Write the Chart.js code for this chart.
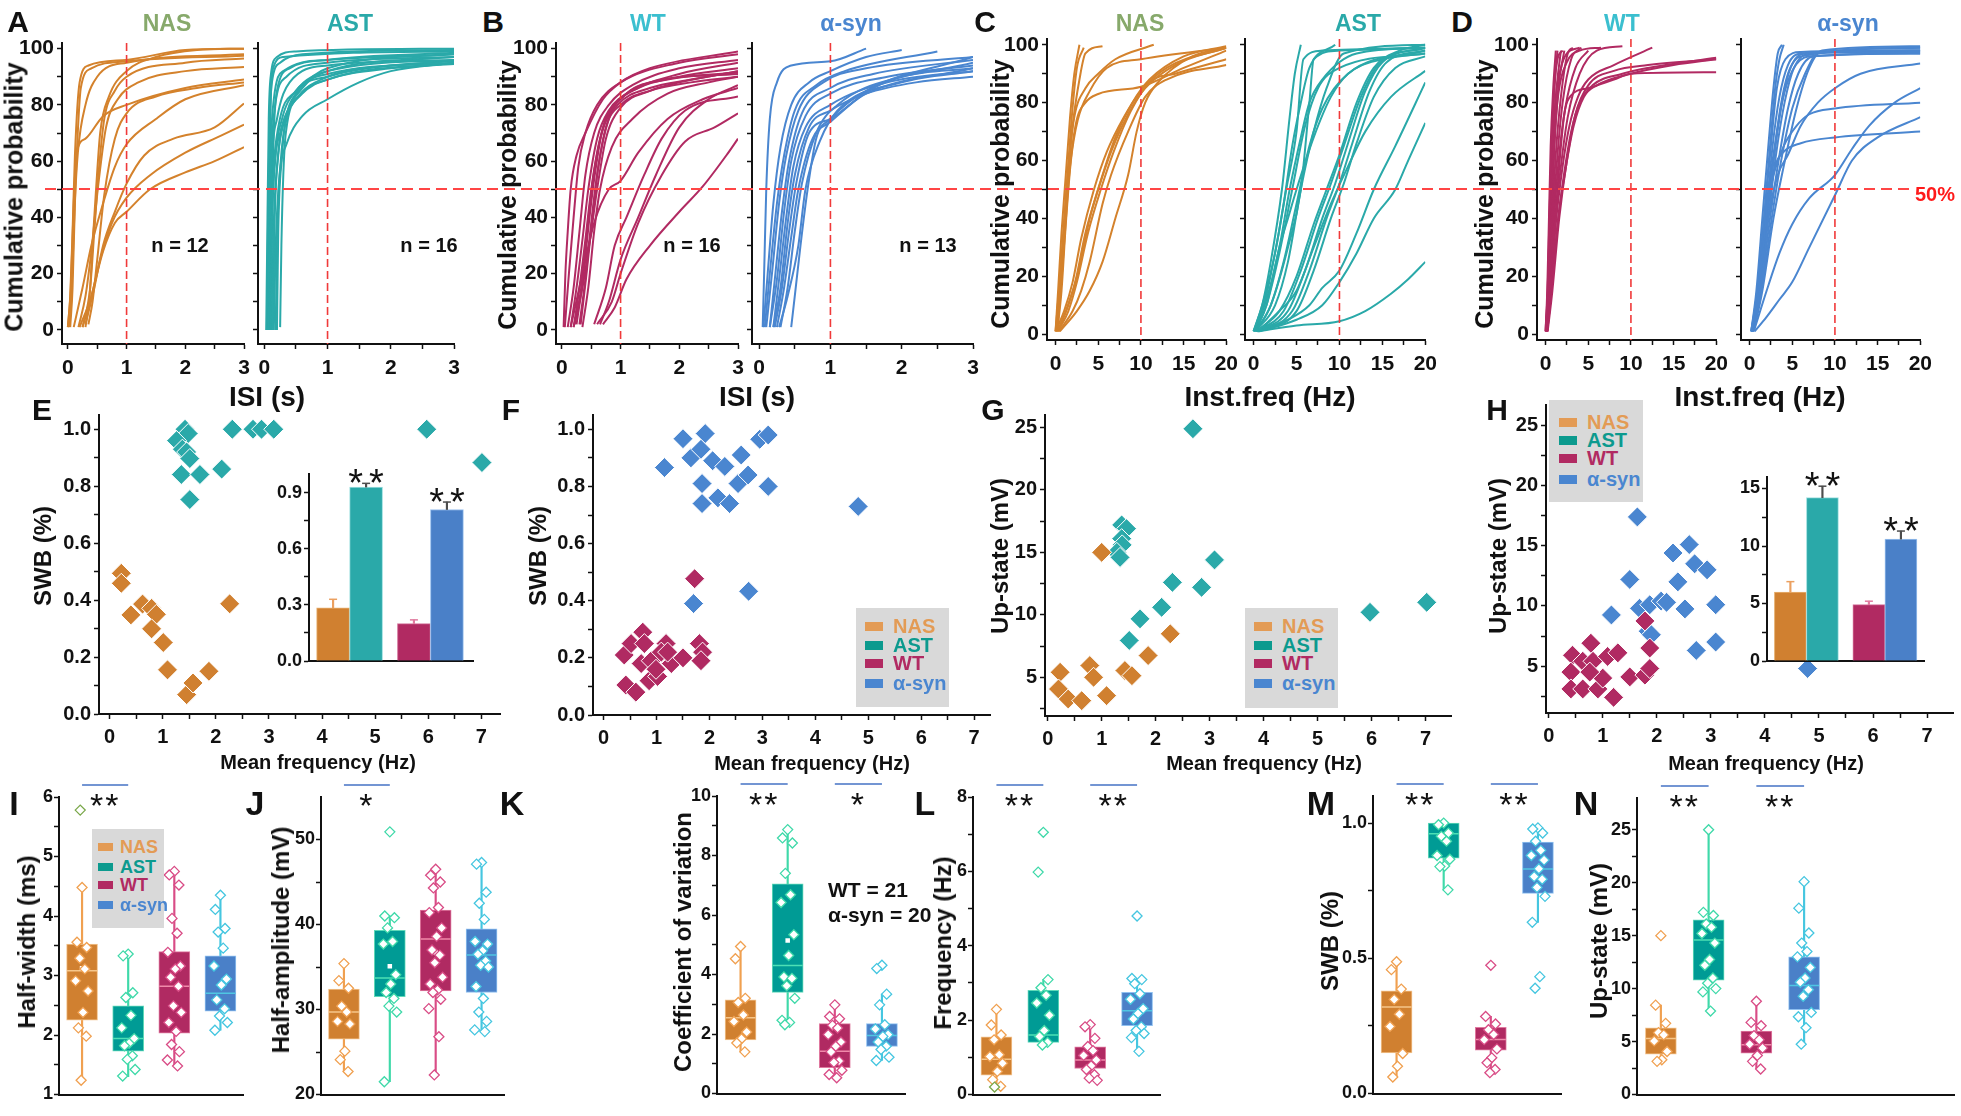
<!DOCTYPE html>
<html>
<head>
<meta charset="utf-8">
<script src="https://cdn.jsdelivr.net/npm/chart.js@4.4.1/dist/chart.umd.min.js"></script>
<style>
html, body { margin: 0; padding: 0; background: #fff; overflow: hidden; }
#fig { position: relative; width: 1961px; height: 1116px; font-family: "Liberation Sans", Arial, sans-serif; }
#fig canvas { position: absolute; }
.t { position: absolute; transform: translate(-50%, -50%); white-space: nowrap; font-weight: bold; line-height: 1; }
.leg { position: absolute; background: #d9d9d9; }
.sw { position: absolute; }
</style>
</head>
<body>
<div id="fig"></div>
<script>
// ---------- data ----------
const groups = ['NAS', 'AST', 'WT', 'α-syn'];

// row 1: cumulative curves, [x, cumulative %]
const isiNasCurves = [
  [[0,1],[0.04,12],[0.08,35],[0.12,62],[0.2,88],[0.35,94],[1,96],[2,99.5],[3,100]],
  [[0.02,1],[0.06,12],[0.1,35],[0.15,62],[0.22,86],[0.4,93],[1,95.5],[3,97.5]],
  [[0.04,1],[0.08,15],[0.12,45],[0.17,63],[0.3,80],[0.5,90],[1,95],[3,98]],
  [[0,1],[0.05,15],[0.1,45],[0.15,63],[0.3,68],[0.6,76],[1,80],[2,86],[3,89]],
  [[0.3,1],[0.37,12],[0.42,30],[0.48,50],[0.55,70],[0.7,83],[1,92],[1.5,97],[2.2,99.5],[3,100]],
  [[0.25,1],[0.38,15],[0.45,35],[0.52,55],[0.62,75],[0.8,85],[1,90],[2,95],[3,96.5]],
  [[0.18,1],[0.3,12],[0.4,28],[0.52,52],[0.65,72],[0.85,82],[1.2,88],[2,92],[3,93.5]],
  [[0.35,2],[0.42,10],[0.5,25],[0.62,48],[0.8,68],[1,77],[1.5,83],[2.2,86],[3,88]],
  [[0.3,2],[0.45,15],[0.6,30],[0.8,42],[1,52],[1.3,62],[1.8,68],[2.5,72],[3,80.5]],
  [[0.2,1],[0.4,12],[0.55,25],[0.75,38],[1,47],[1.4,55],[2,63],[2.6,69],[3,73]],
  [[0.25,1],[0.4,12],[0.6,28],[0.8,38],[1,42],[1.4,50],[2,56],[2.5,60],[3,65]],
  [[0.1,1],[0.25,15],[0.4,30],[0.6,45],[0.8,58],[1,66],[1.5,75],[2,82],[3,87]]
];
const isiAstCurves = [
  [[0.03,0],[0.05,40],[0.07,75],[0.1,90],[0.2,97],[0.5,99],[3,100]],
  [[0.04,0],[0.06,40],[0.08,70],[0.12,88],[0.25,95],[0.6,98],[3,99.5]],
  [[0.05,0],[0.07,35],[0.1,65],[0.15,82],[0.3,92],[1,96],[3,98]],
  [[0.06,0],[0.08,30],[0.11,60],[0.16,78],[0.35,90],[1,95],[3,97]],
  [[0.07,0],[0.09,35],[0.12,60],[0.2,75],[0.4,88],[1,94],[3,96]],
  [[0.08,0],[0.1,30],[0.14,55],[0.22,72],[0.5,85],[1,91],[3,95]],
  [[0.09,0],[0.11,30],[0.15,55],[0.25,70],[0.5,82],[1,90],[2,94],[3,95.5]],
  [[0.1,0],[0.12,35],[0.17,60],[0.28,75],[0.5,85],[1,92],[3,96]],
  [[0.12,0],[0.14,30],[0.2,58],[0.3,73],[0.6,84],[1,89],[2,93],[3,94.5]],
  [[0.14,0],[0.16,35],[0.22,62],[0.35,76],[0.6,86],[1,92],[3,97]],
  [[0.15,0],[0.18,30],[0.24,55],[0.35,66],[0.6,76],[1,82],[1.5,88],[2,92],[3,95]],
  [[0.18,0],[0.2,30],[0.26,60],[0.35,75],[0.6,86],[1,93],[3,98]],
  [[0.2,0],[0.22,35],[0.28,62],[0.32,72],[0.5,84],[1,90],[3,96]],
  [[0.25,1],[0.27,30],[0.3,55],[0.34,70],[0.55,83],[1,89],[3,95]],
  [[0.06,0],[0.08,45],[0.1,80],[0.14,93],[0.3,97],[3,99]],
  [[0.1,0],[0.12,40],[0.15,70],[0.2,85],[0.4,93],[1,96],[3,98.5]]
];
const isiWtCurves = [
  [[0.03,1],[0.06,20],[0.1,35],[0.15,50],[0.25,62],[0.4,70],[0.7,82],[1,88],[1.5,93],[3,99]],
  [[0.05,1],[0.12,20],[0.2,40],[0.28,58],[0.4,70],[0.6,80],[1,88],[2,95],[3,98]],
  [[0.1,1],[0.2,15],[0.3,35],[0.4,55],[0.55,70],[0.8,80],[1.2,87],[2,93],[3,96]],
  [[0.15,1],[0.25,15],[0.35,32],[0.45,50],[0.6,68],[0.8,78],[1.2,85],[2,91],[3,95]],
  [[0.2,1],[0.3,15],[0.4,32],[0.5,50],[0.65,68],[0.9,80],[1.3,86],[2,90],[3,93]],
  [[0.22,2],[0.33,15],[0.43,35],[0.52,52],[0.68,70],[0.95,80],[1.5,86],[2.2,89],[3,92]],
  [[0.25,2],[0.36,18],[0.46,38],[0.56,55],[0.7,72],[1,82],[1.5,88],[3,91]],
  [[0.3,2],[0.4,18],[0.5,38],[0.6,55],[0.75,72],[1,80],[1.5,85],[2.2,88],[3,90]],
  [[0.32,2],[0.42,20],[0.52,40],[0.62,58],[0.8,75],[1.1,84],[1.8,89],[3,91.5]],
  [[0.35,1],[0.45,15],[0.55,35],[0.65,50],[0.85,65],[1.2,75],[1.8,84],[2.5,88],[3,90]],
  [[0.15,1],[0.35,20],[0.55,38],[0.8,50],[1,53],[1.3,63],[1.8,75],[2.4,82],[3,86]],
  [[0.2,1],[0.35,15],[0.5,35],[0.6,50],[0.75,68],[1,79],[1.5,85],[2,88],[3,92]],
  [[0.55,2],[0.75,15],[0.9,30],[1.1,40],[1.4,55],[1.7,68],[2.1,78],[3,83]],
  [[0.6,2],[0.85,10],[1,20],[1.3,38],[1.7,55],[2.1,67],[2.6,72],[3,77]],
  [[0.7,2],[0.9,8],[1.1,18],[1.5,30],[2,42],[2.4,51],[2.8,62],[3,68]],
  [[0.65,2],[0.8,10],[1,25],[1.3,40],[1.6,55],[2,72],[2.5,82],[3,87]]
];
const isiSynCurves = [
  [[0.05,1],[0.07,20],[0.1,50],[0.15,75],[0.25,88],[0.45,94],[1,95.5],[1.5,100]],
  [[0.06,1],[0.12,20],[0.2,45],[0.3,65],[0.45,80],[0.7,88],[1,92],[1.5,97],[2,99.5]],
  [[0.08,1],[0.15,20],[0.25,45],[0.35,62],[0.5,78],[0.8,87],[1.2,92],[2.5,99]],
  [[0.1,1],[0.18,20],[0.28,45],[0.38,62],[0.55,78],[0.9,88],[1.5,93],[3,97]],
  [[0.15,1],[0.22,18],[0.32,42],[0.42,60],[0.6,77],[1,86],[1.6,91],[3,96]],
  [[0.15,1],[0.25,18],[0.35,42],[0.45,60],[0.65,76],[1,84],[1.8,90],[3,94]],
  [[0.2,1],[0.28,18],[0.38,40],[0.48,58],[0.65,72],[1,80],[1.8,88],[3,92]],
  [[0.2,1],[0.3,15],[0.4,38],[0.5,55],[0.7,72],[1,78],[1.5,84],[2.2,88],[3,90]],
  [[0.22,1],[0.32,15],[0.42,35],[0.52,52],[0.7,70],[1,75],[1.5,84],[3,93]],
  [[0.25,1],[0.35,15],[0.45,33],[0.55,50],[0.75,68],[1,74],[1.6,86],[3,95]],
  [[0.3,1],[0.4,15],[0.5,35],[0.6,52],[0.8,70],[1.1,80],[2,90],[3,93]],
  [[0.28,1],[0.4,12],[0.55,30],[0.65,50],[0.85,67],[1.1,78],[2,88],[3,92]],
  [[0.45,1],[0.5,12],[0.58,30],[0.68,50],[0.8,68],[1,75],[1.5,85],[3,97]]
];
const hzNasCurves = [
  [[0,1],[0.3,15],[0.7,35],[1.2,55],[1.7,75],[2.2,90],[2.8,100]],
  [[0,1],[0.4,15],[0.9,35],[1.4,55],[1.9,75],[2.5,92],[3.3,99]],
  [[0.1,1],[0.5,15],[1,35],[1.5,55],[2,72],[2.8,88],[3.5,97],[5.5,99.5]],
  [[0.1,1],[0.5,15],[1,38],[1.5,58],[2.2,75],[3.5,85],[5,90],[7,95],[11.5,100]],
  [[0.2,1],[0.6,15],[1.1,35],[1.6,55],[2.4,73],[3.5,80],[5,83],[10,85.5],[15,92],[20,98]],
  [[0.2,1],[0.7,15],[1.2,38],[1.8,60],[2.6,74],[4,84],[6,92],[10,95],[20,99]],
  [[0,1],[1,8],[2,18],[3,33],[4.5,50],[6,63],[8,75],[10,84],[13,92],[20,99]],
  [[0.2,1],[1.2,8],[2.3,18],[3.5,35],[5,50],[6.5,63],[8.5,76],[10.5,85],[14,93],[20,99]],
  [[0.3,1],[1.5,8],[2.5,18],[3.8,35],[5.3,50],[6.8,63],[8.8,77],[11,87],[14,90],[20,95]],
  [[0.4,1],[2,8],[3,15],[4,25],[5.5,45],[6.5,55],[8.5,70],[10.5,82],[13,88],[20,93]],
  [[0.5,1],[2.5,8],[4,15],[5.5,25],[7,40],[8.5,55],[9.5,70],[10.5,80],[12,87],[16,96],[20,99]],
  [[0.3,1],[1.5,10],[2.7,22],[4,40],[5.5,55],[7,68],[9,80],[11,88],[15,96],[20,99.5]]
];
const hzAstCurves = [
  [[0,1],[1,10],[2,25],[3.3,50],[4.2,75],[4.8,90],[5.5,100]],
  [[0,1],[1.2,10],[2.3,25],[3.5,45],[4.5,65],[5.5,80],[6.5,92],[9.5,100]],
  [[0,1],[1.2,12],[2.5,28],[3.8,50],[5,70],[5.8,95],[8,98],[20,99]],
  [[0.1,1],[1.5,12],[3,30],[4.2,50],[5.5,68],[6.5,80],[8,88],[12,97],[20,99]],
  [[0.1,1],[1.5,10],[3,28],[4.5,50],[6,72],[7.5,85],[10,92],[20,97]],
  [[0.2,1],[2,10],[3.5,25],[5,45],[6.5,65],[8,78],[11,90],[20,98]],
  [[0.2,1],[2.5,10],[4,25],[5.5,50],[7,70],[8.5,85],[10.5,97],[20,100]],
  [[0.3,1],[3,8],[5,20],[7,38],[8.5,50],[10,62],[12,80],[14,92],[17,98],[20,100]],
  [[0.3,1],[3.5,8],[5.5,22],[7.5,40],[9,52],[10.5,65],[12.5,82],[14.5,93],[20,99]],
  [[0.4,1],[4,8],[6,22],[8,40],[9.5,52],[11,66],[13,84],[15,94],[20,99]],
  [[0.4,1],[4.5,8],[6.5,22],[8.5,40],[10,52],[11.5,66],[13.5,84],[15.5,94],[20,98]],
  [[0.5,1],[5,8],[7,22],[9,40],[10.5,52],[12,66],[14,82],[16.5,92],[20,96]],
  [[0.5,1],[3,8],[5,15],[7,30],[9,45],[11,58],[13,70],[16,82],[20,91]],
  [[0.6,1],[4,5],[6.5,10],[8,16],[10,22],[12,35],[14,50],[16.5,65],[20,87]],
  [[0.7,1],[5,5],[8,10],[10,18],[12,28],[14,40],[16.5,50],[18,60],[20,73]],
  [[0.5,1],[5,3],[10,4.5],[13,8],[16,14],[18,19],[20,25]],
  [[0.2,1],[1.5,10],[3,30],[4,40],[5,50],[7,68],[9,82],[11,90],[15,95],[20,97]],
  [[0.3,1],[2,10],[4,30],[5.5,50],[6.5,80],[7,95],[10,98],[20,99]]
];
const hzWtCurves = [
  [[0,1],[0.2,15],[0.4,40],[0.6,65],[0.9,85],[1.2,98]],
  [[0,1],[0.25,15],[0.5,40],[0.75,65],[1.05,85],[1.4,98]],
  [[0.05,1],[0.3,15],[0.6,40],[0.9,65],[1.3,85],[1.8,98]],
  [[0.05,1],[0.35,15],[0.7,40],[1.05,65],[1.5,85],[2.2,98]],
  [[0.1,1],[0.4,15],[0.8,40],[1.2,62],[1.8,82],[2.6,97],[3.2,99]],
  [[0.1,1],[0.45,15],[0.9,40],[1.4,62],[2,80],[3,95],[4.2,99]],
  [[0.1,1],[0.5,15],[1,40],[1.6,62],[2.3,78],[3.5,92],[5,98]],
  [[0.15,1],[0.55,15],[1.1,38],[1.8,58],[2.6,75],[4,90],[6,98],[9,99.5]],
  [[0.15,1],[0.6,15],[1.2,38],[2,58],[2.8,72],[3.8,82],[5,88],[8,93],[12.5,99]],
  [[0.2,1],[0.7,15],[1.4,38],[2.2,56],[3,70],[4,80],[5.5,86],[9,90],[12,92],[20,95.5]],
  [[0.2,1],[0.7,15],[1.5,40],[2.4,58],[3.3,72],[4.5,82],[6,86],[10,90],[15,93],[20,95]],
  [[0.2,1],[0.6,15],[1.1,38],[1.6,58],[2.2,76],[3,82.5],[5,85],[8,88],[10,90],[20,90.5]],
  [[0.05,1],[0.3,15],[0.55,40],[0.85,65],[1.2,82],[1.8,92],[2.5,97],[4,99]],
  [[0.1,1],[0.35,15],[0.65,40],[1,65],[1.5,83],[2.5,94],[4,98],[6.5,99]],
  [[0.25,1],[0.8,15],[1.6,40],[2.5,60],[3.5,76],[5,86],[8,91],[12,93],[20,95]],
  [[0.05,1],[0.25,15],[0.45,40],[0.7,65],[1,85],[1.4,95],[2,98]]
];
const hzSynCurves = [
  [[0.2,1],[0.8,15],[1.5,40],[2.2,65],[2.8,85],[3.3,97],[3.8,100]],
  [[0.3,1],[0.9,15],[1.7,40],[2.4,65],[3,85],[3.5,95],[4,100]],
  [[0.2,1],[1,15],[1.9,40],[2.7,65],[3.5,82],[4.5,93],[6,97],[20,98]],
  [[0.3,1],[1.1,15],[2,40],[2.9,62],[3.8,80],[4.8,92],[6.5,97],[20,97.5]],
  [[0.3,1],[1.2,15],[2.2,40],[3.1,62],[4.1,80],[5.2,92],[7,97],[20,98]],
  [[0.4,1],[1.3,15],[2.4,40],[3.4,60],[4.5,78],[5.7,90],[7.5,96],[20,97]],
  [[0.4,1],[1.4,15],[2.6,40],[3.7,60],[5,78],[6.5,90],[8,97],[20,99]],
  [[0.5,1],[1.5,15],[2.8,40],[4,58],[5.5,78],[7,92],[8.5,98],[20,99.5]],
  [[0.2,1],[0.9,15],[1.7,40],[2.5,65],[3.2,85],[4.2,95],[6,97.5],[20,98]],
  [[0.3,1],[1,15],[1.8,40],[2.8,62],[3.8,80],[5,91],[7,96],[20,97]],
  [[0.4,1],[1.2,15],[2.2,40],[3.3,55],[4.5,62],[6,72],[8,80],[10,85],[13,90],[20,93.5]],
  [[0.3,1],[1,15],[1.8,40],[2.8,55],[4,65],[5.5,72],[7,76],[10,78],[20,80]],
  [[0.4,1],[1.2,15],[2,40],[3,58],[4,63],[6,66],[10,68],[20,70]],
  [[0.5,1],[2,15],[3.5,28],[5,38],[7,47],[10,55],[12,64],[14,72],[17,80],[20,85]],
  [[0.6,1],[2,6],[3.5,12],[5,18],[7,30],[10,48],[12,60],[15,68],[20,75]],
  [[0.3,1],[1.1,15],[2,40],[2.8,60],[3.6,78],[4.5,90],[6,96],[20,99]]
];

// row 2: mean frequency (Hz) vs SWB / up-state
const eNasFreq = [0.22, 0.22, 0.40, 0.62, 0.79, 0.88, 0.79, 1.01, 1.09, 1.45, 1.57, 1.87, 2.26];
const eNasSwb  = [0.494, 0.459, 0.348, 0.386, 0.371, 0.350, 0.299, 0.251, 0.155, 0.068, 0.109, 0.150, 0.387];
const eAstFreq = [1.42, 1.48, 1.26, 1.37, 1.45, 1.51, 1.35, 1.70, 1.51, 2.11, 2.31, 2.70, 2.86, 3.09, 5.97, 7.01];
const eAstSwb  = [1.0, 0.985, 0.96, 0.93, 0.92, 0.897, 0.841, 0.841, 0.753, 0.86, 1.0, 1.0, 1.0, 1.0, 1.0, 0.883];
const fWtFreq  = [0.39, 0.52, 0.74, 0.77, 0.71, 0.90, 0.42, 0.61, 0.86, 1.02, 1.18, 1.09, 1.28, 1.50, 1.81, 1.87, 1.84, 1.72, 0.99, 1.21];
const fWtSwb   = [0.21, 0.25, 0.29, 0.25, 0.18, 0.19, 0.105, 0.08, 0.12, 0.135, 0.25, 0.22, 0.18, 0.20, 0.25, 0.22, 0.19, 0.477, 0.16, 0.22];
const fSynFreq = [1.50, 1.92, 1.15, 1.65, 1.84, 2.06, 2.29, 2.60, 1.86, 1.86, 2.16, 2.38, 2.54, 2.73, 2.95, 3.11, 3.11, 4.81, 1.70, 2.74];
const fSynSwb  = [0.967, 0.985, 0.866, 0.90, 0.93, 0.89, 0.87, 0.91, 0.81, 0.74, 0.76, 0.74, 0.81, 0.84, 0.965, 0.98, 0.80, 0.73, 0.39, 0.433];
const gNasFreq = [0.23, 0.20, 0.38, 0.63, 0.78, 0.85, 1.09, 1.0, 1.43, 1.56, 1.86, 2.27];
const gNasUp   = [5.4, 4.06, 3.26, 3.13, 5.94, 5.0, 3.53, 15.0, 5.54, 5.13, 6.74, 8.48];
const gAstFreq = [1.37, 1.46, 1.37, 1.38, 1.28, 1.34, 1.51, 1.71, 2.11, 2.31, 2.85, 3.09, 2.69, 5.97, 7.02];
const gAstUp   = [17.2, 16.9, 16.1, 15.6, 15.0, 14.6, 7.95, 9.68, 10.6, 12.6, 12.2, 14.4, 24.9, 10.2, 11.0];
const hWtFreq  = [0.44, 0.78, 0.41, 0.63, 0.82, 0.41, 0.63, 0.91, 1.0, 1.09, 1.28, 1.2, 1.50, 1.78, 1.87, 1.87, 1.78, 0.76];
const hWtUp    = [5.9, 6.9, 4.5, 5.4, 5.4, 3.1, 3.1, 3.1, 4.0, 5.8, 6.1, 2.4, 4.1, 4.25, 4.8, 6.5, 8.75, 4.5];
const hSynFreq = [1.64, 1.50, 1.16, 1.68, 1.87, 2.08, 2.18, 1.84, 1.90, 2.30, 2.60, 2.39, 2.70, 2.93, 2.52, 3.09, 2.73, 3.09, 4.79];
const hSynUp   = [17.4, 12.2, 9.25, 9.8, 10.1, 10.4, 10.3, 7.9, 7.6, 14.4, 15.1, 12.0, 13.5, 13.0, 9.75, 10.1, 6.3, 7.0, 4.8];

// inset bars (mean, sem)
const swbMean = [0.285, 0.93, 0.20, 0.81];
const swbErr  = [0.045, 0.02, 0.02, 0.04];
const upMean  = [6.0, 14.2, 4.9, 10.6];
const upErr   = [0.9, 1.0, 0.3, 0.7];

// row 3 boxes: [low whisker, q1, median, q3, high whisker] per group
const hwBox = [[1.25, 2.25, 3.08, 3.53, 4.48], [1.3, 1.73, 1.94, 2.49, 3.37], [1.48, 2.03, 2.82, 3.4, 4.75], [2.08, 2.4, 2.7, 3.33, 4.37]];
const hwPts = [
  [4.48, 3.56, 3.47, 3.29, 3.11, 2.91, 2.74, 2.38, 2.12, 1.98, 1.24],
  [3.36, 3.33, 2.71, 2.63, 2.33, 2.12, 1.94, 1.86, 1.82, 1.65, 1.59, 1.42, 1.31],
  [4.75, 4.69, 4.52, 3.96, 3.71, 3.39, 3.16, 3.11, 2.97, 2.82, 2.49, 2.38, 2.21, 2.06, 1.84, 1.72, 1.58, 1.48],
  [4.35, 4.11, 3.79, 3.73, 3.46, 3.16, 2.94, 2.84, 2.59, 2.44, 2.32, 2.21, 2.08]
];
const hwMean = [3.12, null, null, null];
const hwOdd = [5.78, null, null, null];

const haBox = [[22.7, 26.5, 29.7, 32.4, 35.4], [21.5, 31.5, 33.7, 39.3, 41.0], [22.3, 32.2, 38.3, 41.7, 46.5], [27.4, 32.0, 36.4, 39.5, 47.3]];
const haPts = [
  [35.4, 33.4, 32.5, 30.4, 29.7, 28.6, 28.3, 25.1, 24.1, 22.7],
  [50.9, 41.0, 40.8, 39.6, 38.0, 37.7, 34.1, 33.0, 32.0, 31.3, 30.4, 29.7, 21.5],
  [46.5, 45.8, 45.0, 44.3, 42.0, 41.4, 39.6, 38.6, 37.0, 36.4, 35.5, 33.8, 33.0, 32.3, 32.0, 31.2, 30.1, 26.8, 22.3],
  [47.3, 47.1, 43.8, 42.5, 40.6, 38.0, 37.7, 36.9, 36.5, 35.7, 35.2, 35.0, 32.7, 31.3, 29.7, 28.6, 27.6, 27.4]
];
const haMean = [null, 35.1, 36.7, null];

const cvBox = [[1.4, 1.8, 2.55, 3.15, 4.94], [2.31, 3.4, 4.3, 7.05, 8.87], [0.53, 0.87, 1.42, 2.35, 2.98], [1.11, 1.58, 1.95, 2.35, 3.34]];
const cvPts = [
  [4.94, 4.53, 3.2, 3.06, 2.64, 2.42, 2.07, 1.84, 1.7, 1.4],
  [8.87, 8.59, 8.42, 7.4, 6.68, 6.42, 5.34, 4.64, 3.92, 3.87, 3.62, 3.2, 2.46, 2.39, 2.31],
  [2.98, 2.59, 2.51, 2.29, 2.2, 1.98, 1.73, 1.59, 1.4, 1.09, 1.04, 0.78, 0.64, 0.53],
  [4.31, 4.2, 3.34, 2.98, 2.31, 2.17, 1.98, 1.92, 1.73, 1.59, 1.48, 1.22, 1.11]
];
const cvMean = [null, 5.14, null, null];

const frBox = [[0.22, 0.52, 0.95, 1.55, 2.29], [1.33, 1.4, 1.6, 2.8, 3.09], [0.38, 0.7, 0.93, 1.28, 1.88], [1.16, 1.85, 2.25, 2.75, 3.12]];
const frPts = [
  [2.29, 1.87, 1.6, 1.47, 1.07, 1.02, 0.84, 0.62, 0.4, 0.22],
  [7.05, 5.98, 3.09, 2.87, 2.67, 2.46, 2.13, 1.72, 1.56, 1.4, 1.33],
  [1.88, 1.82, 1.51, 1.29, 1.18, 1.05, 0.93, 0.77, 0.67, 0.53, 0.44, 0.38],
  [4.8, 3.12, 3.09, 2.98, 2.71, 2.56, 2.31, 2.18, 2.03, 1.82, 1.72, 1.64, 1.53, 1.16]
];
const frOdd = [0.2, null, null, null];

const swBox = [[0.061, 0.15, 0.32, 0.38, 0.487], [0.753, 0.87, 0.96, 1.0, 1.0], [0.077, 0.16, 0.2, 0.245, 0.285], [0.633, 0.74, 0.83, 0.93, 0.982]];
const swPts = [
  [0.487, 0.458, 0.386, 0.348, 0.293, 0.248, 0.148, 0.101, 0.061],
  [1.0, 0.994, 0.963, 0.951, 0.933, 0.88, 0.866, 0.841, 0.839, 0.753],
  [0.474, 0.285, 0.257, 0.236, 0.218, 0.199, 0.165, 0.132, 0.114, 0.089, 0.077],
  [0.982, 0.978, 0.963, 0.933, 0.899, 0.88, 0.863, 0.831, 0.802, 0.792, 0.762, 0.729, 0.633, 0.432, 0.389]
];

const upBox = [[3.13, 3.8, 5.3, 6.3, 8.44], [7.88, 10.8, 14.6, 16.5, 25.0], [2.41, 3.9, 4.7, 6.0, 8.81], [4.75, 8.0, 10.3, 13.0, 20.1]];
const upPts = [
  [15.0, 8.44, 6.72, 5.84, 5.63, 5.06, 4.06, 3.28, 3.13],
  [25.0, 17.2, 16.9, 16.1, 15.8, 15.2, 14.3, 12.75, 12.2, 11.0, 10.5, 10.0, 9.69, 7.88],
  [8.81, 6.81, 6.5, 5.56, 5.16, 4.75, 4.38, 3.69, 3.13, 2.41],
  [20.1, 17.6, 15.25, 14.3, 13.5, 13.0, 12.0, 11.0, 10.6, 9.9, 9.28, 7.75, 7.34, 6.31, 4.75]
];

// ticks
const cdfTicks = [0, 10, 20, 30, 40, 50, 60, 70, 80, 90, 100];
const cdfMajor = [0, 20, 40, 60, 80, 100];
const isiTicks = [0, 0.5, 1, 1.5, 2, 2.5, 3];
const isiMajor = [0, 1, 2, 3];
const hzTicks = [0, 2.5, 5, 7.5, 10, 12.5, 15, 17.5, 20];
const hzMajor = [0, 5, 10, 15, 20];
const mfTicks = [0, 0.5, 1, 1.5, 2, 2.5, 3, 3.5, 4, 4.5, 5, 5.5, 6, 6.5, 7];
const mfMajor = [0, 1, 2, 3, 4, 5, 6, 7];

// ---------- style ----------
const FONT = '"Liberation Sans", Arial, sans-serif';
const NARROW = '"Liberation Sans Narrow", "Arial Narrow", "Liberation Sans", sans-serif';
const lineCol = ['#d4822c', '#2aa9a9', '#b12a62', '#4a86d0'];
const boxCol = ['#d08030', '#009b95', '#b02a62', '#4a80c8'];
const edgeCol = ['#f3c48f', '#5fd9b8', '#e07aa0', '#8fc0f0'];
const lightCol = ['#f0a050', '#3fd9a9', '#d94c86', '#45c6e0'];
const medCol = ['#f6c68a', '#4de0b5', '#f08aaa', '#4fc6e2'];
const legCol = ['#e39b55', '#0c9a8e', '#b12a62', '#4a86d0'];
const titleCol = ['#87a96b', '#2aa9a9', '#3bbfcf', '#4a86d0'];
const jitter = [0, -0.11, 0.1, -0.05, 0.06, -0.14, 0.13, 0.02, -0.08, 0.09, -0.02, 0.15, -0.12, 0.04, -0.06, 0.11, -0.15, 0.07, -0.03];

const fig = document.getElementById('fig');

function label(text, x, y, size, color, o = {}) {
  const d = document.createElement('div');
  d.className = 't';
  d.textContent = text;
  d.style.left = x + 'px';
  d.style.top = y + 'px';
  d.style.fontSize = size + 'px';
  d.style.color = color || '#111';
  if (o.family) d.style.fontFamily = o.family;
  if (o.rot) d.style.transform = 'translate(-50%, -50%) rotate(-90deg)';
  if (o.left) d.style.transform = 'translate(0, -50%)';
  fig.appendChild(d);
}

function legend(x, y, w, h, swX, txX, rows, size, sw) {
  const b = document.createElement('div');
  b.className = 'leg';
  Object.assign(b.style, { left: x + 'px', top: y + 'px', width: w + 'px', height: h + 'px' });
  fig.appendChild(b);
  groups.forEach((g, i) => {
    const s = document.createElement('div');
    s.className = 'sw';
    Object.assign(s.style, { left: swX + 'px', top: (rows[i] - sw[1] / 2) + 'px', width: sw[0] + 'px', height: sw[1] + 'px', background: legCol[i] });
    fig.appendChild(s);
    label(g, txX, rows[i], size, legCol[i], { left: true });
  });
}

function axis(min, max, ticks, majors, fmt, o) {
  return {
    type: 'linear', min, max, offset: false,
    afterBuildTicks: s => { s.ticks = ticks.map(v => ({ value: v })); },
    ticks: {
      display: o.labels !== false, autoSkip: false, maxRotation: 0, padding: o.pad || 0, color: '#111',
      font: { family: o.family || FONT, size: o.size || 18, weight: 'bold' },
      callback: v => majors.includes(v) ? fmt(v) : ''
    },
    grid: { display: true, drawOnChartArea: false, drawTicks: (o.tl || 0) > 0, tickLength: o.tl || 0, tickColor: '#111', tickWidth: 1.5, offset: false },
    border: { display: true, color: '#111', width: 2 }
  };
}

// dashed reference line at a given x
const refLine = {
  id: 'refLine',
  afterDatasetsDraw(chart, args, opts) {
    if (opts.x == null) return;
    const { ctx, chartArea: a, scales: { x } } = chart;
    const px = x.getPixelForValue(opts.x);
    ctx.save();
    ctx.strokeStyle = '#f03a3a';
    ctx.lineWidth = 1.6;
    ctx.setLineDash([8, 4]);
    ctx.beginPath();
    ctx.moveTo(px, a.top);
    ctx.lineTo(px, a.bottom);
    ctx.stroke();
    ctx.restore();
  }
};

// significance bars above box plots
const sigBars = {
  id: 'sigBars',
  afterDraw(chart, args, opts) {
    const { ctx, chartArea: a, scales: { x } } = chart;
    (opts.items || []).forEach(s => {
      const x1 = x.getPixelForValue(s[0]), x2 = x.getPixelForValue(s[1]);
      ctx.save();
      ctx.strokeStyle = '#4472c4';
      ctx.lineWidth = 1.5;
      ctx.beginPath();
      ctx.moveTo(x1, a.top - 12);
      ctx.lineTo(x2, a.top - 12);
      ctx.stroke();
      ctx.fillStyle = '#111';
      ctx.font = '34px ' + FONT;
      ctx.letterSpacing = '2px';
      ctx.textAlign = 'center';
      ctx.textBaseline = 'middle';
      ctx.fillText(s[2], (x1 + x2) / 2, a.top + 11);
      ctx.restore();
    });
  }
};

// stars above inset bars
const barStars = {
  id: 'barStars',
  afterDatasetsDraw(chart, args, opts) {
    const { ctx, scales: { x, y } } = chart;
    (opts.items || []).forEach(s => {
      ctx.save();
      ctx.fillStyle = '#111';
      ctx.font = '38px ' + FONT;
      ctx.letterSpacing = '6px';
      ctx.textAlign = 'center';
      ctx.textBaseline = 'middle';
      ctx.fillText(s[2], x.getPixelForValue(s[0]) + 3, y.getPixelForValue(s[1]) + 2);
      ctx.restore();
    });
  }
};

function makeChart(area, m, config) {
  const [l, t, r, b] = area;
  const w = r - l + m[0] + m[2], h = b - t + m[1] + m[3];
  const c = document.createElement('canvas');
  c.width = w; c.height = h;
  c.style.left = (l - m[0]) + 'px';
  c.style.top = (t - m[1]) + 'px';
  c.style.width = w + 'px';
  c.style.height = h + 'px';
  fig.appendChild(c);
  const o = config.options;
  o.responsive = false;
  o.animation = false;
  o.devicePixelRatio = 1;
  o.layout = { padding: { left: 0, top: m[1], right: m[2], bottom: 0 } };
  o.plugins = Object.assign({ legend: { display: false }, tooltip: { enabled: false } }, o.plugins || {});
  o.scales.x.afterFit = s => { s.height = m[3]; };
  o.scales.y.afterFit = s => { s.width = m[0]; };
  const chart = new Chart(c, config);
  chart.$top = t - m[1];
  return chart;
}

function cdfChart(area, curves, color, xr, xTicks, xMajor, refX, yr, showY) {
  return makeChart(area, [48, 16, 16, 40], {
    type: 'scatter',
    data: {
      datasets: curves.map(cv => ({
        data: cv.map(p => ({ x: p[0], y: p[1] })),
        showLine: true, borderColor: color, borderWidth: 2, pointRadius: 0,
        cubicInterpolationMode: 'monotone', fill: false
      }))
    },
    options: {
      plugins: { refLine: { x: refX } },
      scales: {
        x: axis(xr[0], xr[1], xTicks, xMajor, v => String(v), { size: 21, pad: 7, tl: 5 }),
        y: axis(yr[0], yr[1], cdfTicks, showY ? cdfMajor : [], v => String(v), { size: 21, pad: 3, tl: 5 })
      }
    },
    plugins: [refLine]
  });
}

function scatterChart(area, sets, xr, yr, yTicks, yMajor, yFmt) {
  return makeChart(area, [52, 16, 16, 40], {
    type: 'scatter',
    data: {
      datasets: sets.map(s => ({
        data: s[0].map((v, i) => ({ x: v, y: s[1][i] })),
        pointStyle: 'rectRot', pointRadius: 10, pointBackgroundColor: s[2],
        pointBorderColor: '#fff', pointBorderWidth: 1
      }))
    },
    options: {
      scales: {
        x: axis(xr[0], xr[1], mfTicks, mfMajor, v => String(v), { size: 20, pad: 6, tl: 5 }),
        y: axis(yr[0], yr[1], yTicks, yMajor, yFmt, { size: 20, pad: 3, tl: 5 })
      }
    }
  });
}

const insetPos = [0, 1, 2.45, 3.45];
const insetFill = ['#d08030', '#2aa9a9', '#b12a62', '#4a80c8'];
const insetEdge = ['#e8b070', '#9fe0e0', '#d27098', '#9ac0ee'];
const insetErrCol = ['#eba060', '#4d4d4d', '#e07ca0', '#4d4d4d'];

function insetChart(area, means, errs, xr, yr, yTicks, yMajor, fmt) {
  const top = means.map((v, i) => v + errs[i]);
  return makeChart(area, [44, 16, 8, 14], {
    type: 'bar',
    data: {
      datasets: [
        { type: 'bar', data: insetPos.map((p, i) => ({ x: p, y: means[i] })), backgroundColor: insetFill,
          borderColor: insetEdge, borderWidth: 1, borderSkipped: 'bottom', grouped: false,
          barPercentage: 1, categoryPercentage: 1, maxBarThickness: 33, order: 3 },
        { type: 'bar', data: insetPos.map((p, i) => ({ x: p, y: [means[i], top[i]] })), backgroundColor: insetErrCol,
          grouped: false, barPercentage: 1, categoryPercentage: 1, maxBarThickness: 1.5, order: 2 },
        { type: 'scatter', data: insetPos.map((p, i) => ({ x: p, y: top[i] })), pointStyle: 'line',
          pointRadius: 4, pointBorderColor: insetErrCol, pointBorderWidth: 1.5, order: 1 }
      ]
    },
    options: {
      plugins: { barStars: { items: [[insetPos[1], top[1], '**'], [insetPos[3], top[3], '**']] } },
      scales: {
        x: axis(xr[0], xr[1], [], [], v => '', { labels: false, tl: 0 }),
        y: axis(yr[0], yr[1], yTicks, yMajor, fmt, { size: 18, pad: 2, tl: 5 })
      }
    },
    plugins: [barStars]
  });
}

function boxChart(area, box, pts, mean, odd, xr, yr, yTicks, yMajor, fmt, sig) {
  const idx = [0, 1, 2, 3];
  const ds = [
    { type: 'bar', data: idx.map(i => ({ x: i, y: [box[i][0], box[i][4]] })), backgroundColor: lightCol,
      grouped: false, barPercentage: 1, categoryPercentage: 1, maxBarThickness: 1.5, order: 6 },
    { type: 'bar', data: idx.map(i => ({ x: i, y: [box[i][1], box[i][3]] })), backgroundColor: boxCol,
      borderColor: edgeCol, borderWidth: 1, borderSkipped: false,
      grouped: false, barPercentage: 1, categoryPercentage: 1, maxBarThickness: 31, order: 5 },
    { type: 'scatter', data: idx.map(i => ({ x: i, y: box[i][2] })), pointStyle: 'line', pointRadius: 15,
      pointBorderColor: medCol, pointBorderWidth: 1.5, order: 4 }
  ];
  if (mean) {
    ds.push({ type: 'scatter', data: idx.filter(i => mean[i] != null).map(i => ({ x: i, y: mean[i] })),
      pointStyle: 'rect', pointRadius: 3.2, pointBackgroundColor: '#fff', pointBorderWidth: 0, order: 3 });
  }
  idx.forEach(i => ds.push({
    type: 'scatter', data: pts[i].map((v, j) => ({ x: i + jitter[j % jitter.length], y: v })),
    pointStyle: 'rectRot', pointRadius: 5, pointBackgroundColor: '#fff',
    pointBorderColor: lightCol[i], pointBorderWidth: 1.3, order: 2
  }));
  if (odd) {
    ds.push({ type: 'scatter', data: idx.filter(i => odd[i] != null).map(i => ({ x: i - 0.04, y: odd[i] })),
      pointStyle: 'rectRot', pointRadius: 5, pointBackgroundColor: '#fff',
      pointBorderColor: '#7aa84a', pointBorderWidth: 1.3, order: 1 });
  }
  return makeChart(area, [42, 32, 10, 14], {
    type: 'bar',
    data: { datasets: ds },
    options: {
      plugins: { sigBars: { items: sig } },
      scales: {
        x: axis(xr[0], xr[1], [], [], v => '', { labels: false, tl: 0 }),
        y: axis(yr[0], yr[1], yTicks, yMajor, fmt, { size: 18, pad: 1, tl: 5, family: NARROW })
      }
    },
    plugins: [sigBars]
  });
}

// ---------- row 1 ----------
const chA = cdfChart([62, 43, 244, 344], isiNasCurves, lineCol[0], [-0.1, 3], isiTicks, isiMajor, 1, [-5, 102], true);
cdfChart([258, 43, 454, 344], isiAstCurves, lineCol[1], [-0.1, 3], isiTicks, isiMajor, 1, [-5, 102], false);
cdfChart([556, 43, 738, 344], isiWtCurves, lineCol[2], [-0.1, 3], isiTicks, isiMajor, 1, [-5, 102], true);
cdfChart([752, 43, 973, 344], isiSynCurves, lineCol[3], [-0.1, 3], isiTicks, isiMajor, 1, [-5, 102], false);
cdfChart([1047, 39, 1229, 340], hzNasCurves, lineCol[0], [-1, 20], hzTicks, hzMajor, 10, [-2, 102], true);
cdfChart([1245, 39, 1428, 340], hzAstCurves, lineCol[1], [-1, 20], hzTicks, hzMajor, 10, [-2, 102], false);
cdfChart([1537, 39, 1719, 340], hzWtCurves, lineCol[2], [-1, 20], hzTicks, hzMajor, 10, [-2, 102], true);
cdfChart([1741, 39, 1923, 340], hzSynCurves, lineCol[3], [-1, 20], hzTicks, hzMajor, 10, [-2, 102], false);

// 50 % line across the whole first row
const y50 = chA.$top + chA.scales.y.getPixelForValue(50);
const dash = document.createElement('div');
Object.assign(dash.style, {
  position: 'absolute', left: '45px', width: '1868px', top: (y50 - 1) + 'px', height: '2px', zIndex: 5,
  background: 'repeating-linear-gradient(90deg, #ff4545 0 11px, transparent 11px 17px)'
});
fig.appendChild(dash);

// ---------- row 2 ----------
const swbTicks = [0, 0.1, 0.2, 0.3, 0.4, 0.5, 0.6, 0.7, 0.8, 0.9, 1.0];
const swbMajor = [0, 0.2, 0.4, 0.6, 0.8, 1.0];
const upTicks = [2.5, 5, 7.5, 10, 12.5, 15, 17.5, 20, 22.5, 25];
const upMajor = [5, 10, 15, 20, 25];
scatterChart([99, 415, 500, 714], [[eNasFreq, eNasSwb, boxCol[0]], [eAstFreq, eAstSwb, lineCol[1]]], [-0.2, 7.35], [0, 1.05], swbTicks, swbMajor, v => v.toFixed(1));
insetChart([309, 474, 473, 661], swbMean, swbErr, [-0.73, 4.24], [0, 1.0], [0, 0.15, 0.3, 0.45, 0.6, 0.75, 0.9], [0, 0.3, 0.6, 0.9], v => v.toFixed(1));
scatterChart([593, 415, 990, 715], [[fWtFreq, fWtSwb, boxCol[2]], [fSynFreq, fSynSwb, lineCol[3]]], [-0.2, 7.3], [0, 1.05], swbTicks, swbMajor, v => v.toFixed(1));
scatterChart([1045, 415, 1451, 716], [[gNasFreq, gNasUp, boxCol[0]], [gAstFreq, gAstUp, lineCol[1]]], [-0.05, 7.47], [1.9, 26], upTicks, upMajor, v => String(v));
scatterChart([1546, 405, 1953, 713], [[hWtFreq, hWtUp, boxCol[2]], [hSynFreq, hSynUp, lineCol[3]]], [-0.05, 7.48], [1.1, 26.7], upTicks, upMajor, v => String(v));
insetChart([1767, 477, 1924, 661], upMean, upErr, [-0.73, 4.17], [0, 16], [0, 2.5, 5, 7.5, 10, 12.5, 15], [0, 5, 10, 15], v => String(v));

// ---------- row 3 ----------
boxChart([59, 797, 250, 1097], hwBox, hwPts, hwMean, hwOdd, [-0.5, 3.5], [1, 6], [1, 1.5, 2, 2.5, 3, 3.5, 4, 4.5, 5, 5.5, 6], [1, 2, 3, 4, 5, 6], v => String(v), [[0, 1, '**']]);
boxChart([321, 797, 511, 1097], haBox, haPts, haMean, null, [-0.5, 3.5], [20, 55], [20, 25, 30, 35, 40, 45, 50], [20, 30, 40, 50], v => String(v), [[0, 1, '*']]);
boxChart([717, 796, 912, 1096], cvBox, cvPts, cvMean, null, [-0.5, 3.5], [0, 10], [0, 1, 2, 3, 4, 5, 6, 7, 8, 9, 10], [0, 2, 4, 6, 8, 10], v => String(v), [[0, 1, '**'], [2, 3, '*']]);
boxChart([973, 797, 1167, 1097], frBox, frPts, null, frOdd, [-0.5, 3.5], [0, 8], [0, 1, 2, 3, 4, 5, 6, 7, 8], [0, 2, 4, 6, 8], v => String(v), [[0, 1, '**'], [2, 3, '**']]);
boxChart([1373, 796, 1568, 1096], swBox, swPts, null, null, [-0.5, 3.5], [0, 1.1], [0, 0.25, 0.5, 0.75, 1.0], [0, 0.5, 1.0], v => v.toFixed(1), [[0, 1, '**'], [2, 3, '**']]);
boxChart([1637, 798, 1961, 1097], upBox, upPts, null, null, [-0.5, 6.15], [0, 28], [0, 2.5, 5, 7.5, 10, 12.5, 15, 17.5, 20, 22.5, 25], [0, 5, 10, 15, 20, 25], v => String(v), [[0, 1, '**'], [2, 3, '**']]);

// ---------- text ----------
[['A', 18, 22], ['B', 493, 22], ['C', 985, 22], ['D', 1462, 22], ['E', 42, 410], ['F', 511, 410], ['G', 993, 410], ['H', 1497, 410]]
  .forEach(p => label(p[0], p[1], p[2], 30));
[['I', 14, 803], ['J', 255, 803], ['K', 512, 803], ['L', 925, 803], ['M', 1321, 803], ['N', 1586, 803]]
  .forEach(p => label(p[0], p[1], p[2], 34));

label('NAS', 167, 23, 23, titleCol[0]);
label('AST', 350, 23, 23, titleCol[1]);
label('WT', 648, 23, 23, titleCol[2]);
label('α-syn', 851, 23, 23, titleCol[3]);
label('NAS', 1140, 23, 23, titleCol[0]);
label('AST', 1358, 23, 23, titleCol[1]);
label('WT', 1622, 23, 23, titleCol[2]);
label('α-syn', 1848, 23, 23, titleCol[3]);

[[14, 197], [507, 195], [1000, 194], [1484, 194]].forEach(p => label('Cumulative probability', p[0], p[1], 25, '#111', { rot: true }));
label('ISI (s)', 267, 397, 28);
label('ISI (s)', 757, 397, 28);
label('Inst.freq (Hz)', 1270, 397, 28);
label('Inst.freq (Hz)', 1760, 397, 28);
label('n = 12', 180, 245, 20);
label('n = 16', 429, 245, 20);
label('n = 16', 692, 245, 20);
label('n = 13', 928, 245, 20);
label('50%', 1935, 194, 20, '#ff1a1a');

label('SWB (%)', 43, 556, 24, '#111', { rot: true });
label('SWB (%)', 538, 556, 24, '#111', { rot: true });
label('Up-state (mV)', 1000, 556, 24, '#111', { rot: true });
label('Up-state (mV)', 1498, 556, 24, '#111', { rot: true });
[[318, 762], [812, 763], [1264, 763], [1766, 763]].forEach(p => label('Mean frequency (Hz)', p[0], p[1], 20));

legend(856, 608, 93, 99, 865, 893, [626, 645, 663, 683], 20, [18, 9]);
legend(1245, 608, 93, 100, 1254, 1282, [626, 645, 663, 683], 20, [18, 9]);
legend(1549, 400, 94, 102, 1559, 1587, [422, 440, 458, 479], 20, [18, 9]);
legend(92, 829, 72, 99, 98, 120, [847, 867, 885, 905], 18, [15, 8]);

label('Half-width (ms)', 27, 942, 24, '#111', { rot: true });
label('Half-amplitude (mV)', 281, 940, 24, '#111', { rot: true });
label('Coefficient of variation', 683, 942, 24, '#111', { rot: true });
label('Frequency (Hz)', 943, 943, 24, '#111', { rot: true });
label('SWB (%)', 1330, 941, 24, '#111', { rot: true });
label('Up-state (mV)', 1599, 941, 24, '#111', { rot: true });
label('WT = 21', 828, 889, 21, '#111', { left: true, family: NARROW });
label('α-syn = 20', 828, 914, 21, '#111', { left: true, family: NARROW });
</script>
</body>
</html>
